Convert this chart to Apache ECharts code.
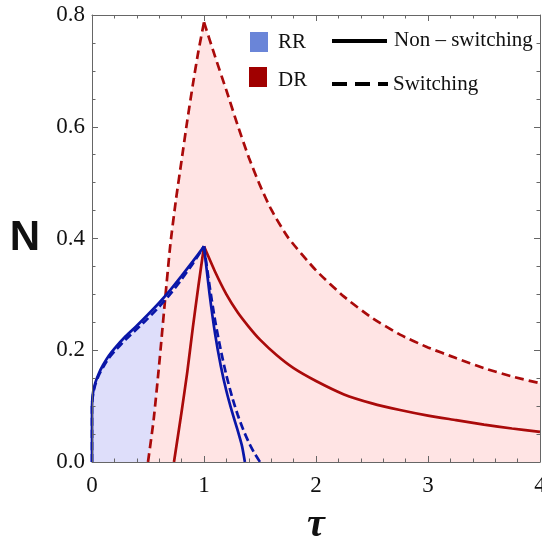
<!DOCTYPE html>
<html>
<head>
<meta charset="utf-8">
<script src="https://cdn.jsdelivr.net/npm/echarts@6/dist/echarts.min.js"></script>
<style>
    html, body { margin: 0; padding: 0; background: #fff; }
    #chart { width: 542px; height: 542px; }
</style>
</head>
<body>
<div id="chart"></div>
<script>
    // axis ticks
    var xTicks = [0, 1, 2, 3, 4];
    var yTicks = [0.0, 0.2, 0.4, 0.6, 0.8];

    // RR (blue) curves, [tau, N]
    var rrNonSwitching = [
        [0, 0], [0, 0.1], [0.01, 0.125], [0.03, 0.142], [0.06, 0.158], [0.1, 0.174],
        [0.15, 0.19], [0.2, 0.203], [0.3, 0.225], [0.4, 0.244], [0.5, 0.264], [0.6, 0.285],
        [0.7, 0.308], [0.8, 0.333], [0.9, 0.359], [1.0, 0.386],
        [1.05, 0.30], [1.1, 0.228], [1.15, 0.172], [1.2, 0.127], [1.25, 0.09],
        [1.3, 0.057], [1.34, 0.028], [1.365, 0]
    ];
    var rrSwitching = [
        [0, 0], [0, 0.1], [0.01, 0.122], [0.03, 0.139], [0.06, 0.155], [0.1, 0.17],
        [0.15, 0.186], [0.2, 0.198], [0.3, 0.219], [0.4, 0.238], [0.5, 0.257], [0.6, 0.278],
        [0.7, 0.301], [0.8, 0.327], [0.9, 0.355], [1.0, 0.386],
        [1.05, 0.315], [1.1, 0.252], [1.15, 0.2], [1.2, 0.155], [1.25, 0.117],
        [1.3, 0.085], [1.35, 0.058], [1.4, 0.035], [1.45, 0.016], [1.5, 0]
    ];

    // DR (red) curves, [tau, N]
    var drNonSwitching = [
        [0.732, 0], [0.8, 0.09], [0.85, 0.16], [0.9, 0.24], [0.95, 0.315], [1.0, 0.386],
        [1.1, 0.34], [1.2, 0.3], [1.3, 0.268], [1.4, 0.242], [1.5, 0.219], [1.65, 0.191],
        [1.8, 0.168], [2.0, 0.145], [2.25, 0.121], [2.5, 0.105], [2.75, 0.093], [3.0, 0.083],
        [3.25, 0.075], [3.5, 0.067], [3.75, 0.06], [4.0, 0.054]
    ];
    var drSwitching = [
        [0.5, 0], [0.55, 0.075], [0.6, 0.175], [0.65, 0.285], [0.7, 0.39], [0.75, 0.47],
        [0.8, 0.54], [0.85, 0.61], [0.9, 0.675], [0.95, 0.735], [1.0, 0.787],
        [1.1, 0.725], [1.2, 0.665], [1.3, 0.603], [1.4, 0.545], [1.5, 0.495], [1.6, 0.452],
        [1.75, 0.402], [2.0, 0.343], [2.25, 0.296], [2.5, 0.258], [2.75, 0.228], [3.0, 0.205],
        [3.25, 0.186], [3.5, 0.168], [3.75, 0.153], [4.0, 0.141]
    ];

    var blue = '#0A16A8';
    var red = '#AA0A0A';
    var serif = '"Liberation Serif", "DejaVu Serif", serif';
    var frameColor = '#666';

    // split a curve at its peak so the cusp stays sharp
    function splitAtPeak(pts) {
        var k = 0;
        for (var i = 1; i < pts.length; i++) {
            if (pts[i][1] > pts[k][1]) k = i;
        }
        return [pts.slice(0, k + 1), pts.slice(k)];
    }

    function curve(pts, color, dashed, z) {
        return splitAtPeak(pts).map(function (part) {
            return {
                type: 'line',
                data: part,
                smooth: 0.2,
                symbol: 'none',
                z: z,
                lineStyle: { color: color, width: 2.7, type: dashed ? dashed : 'solid', cap: 'butt' }
            };
        });
    }

    function area(pts, fill, z) {
        return {
            type: 'line',
            data: pts,
            symbol: 'none',
            z: z,
            silent: true,
            lineStyle: { width: 0, opacity: 0 },
            areaStyle: { color: fill, opacity: 1 }
        };
    }

    // ticks point into the plot (negative length flips them inward)
    function frameParts(split) {
        return {
            axisLine: { show: true, onZero: false, lineStyle: { color: frameColor, width: 1 } },
            axisTick: { show: true, inside: false, length: -6, lineStyle: { color: frameColor, width: 1 } },
            minorTick: { show: true, splitNumber: split, length: -3.5, lineStyle: { color: frameColor, width: 1 } },
            splitLine: { show: false }
        };
    }

    function xAxisDef(pos, labels) {
        return Object.assign({
            type: 'value', position: pos, min: 0, max: 4, interval: 1, z: 10,
            axisLabel: { show: labels, fontFamily: serif, fontSize: 23, color: '#111', margin: 12 },
            name: labels ? 'τ' : '',
            nameLocation: 'middle', nameGap: 44,
            nameTextStyle: { fontFamily: serif, fontSize: 40, fontWeight: 'bold', fontStyle: 'italic', color: '#111' }
        }, frameParts(5));
    }
    function yAxisDef(pos, labels) {
        return Object.assign({
            type: 'value', position: pos, min: 0, max: 0.8, interval: 0.2, z: 10,
            axisLabel: {
                show: labels, fontFamily: serif, fontSize: 23, color: '#111', margin: 7,
                formatter: function (v) { return v.toFixed(1); }
            },
            name: labels ? 'N' : '',
            nameLocation: 'middle', nameRotate: 0, nameGap: 52,
            nameTextStyle: { fontFamily: '"Liberation Sans", Arial, sans-serif', fontSize: 42, fontWeight: 'bold', color: '#111' }
        }, frameParts(4));
    }

    var series = [
        area(rrNonSwitching, '#DEDEFA', 1),
        area(drSwitching, '#FFE4E4', 2)
    ].concat(
        curve(drSwitching, red, [9, 5], 3),
        curve(drNonSwitching, red, null, 4),
        curve(rrSwitching, blue, [8, 4], 5),
        curve(rrNonSwitching, blue, null, 6)
    );

    var legendText = { fontFamily: serif, fontSize: 21, fill: '#111', textVerticalAlign: 'middle' };

    var chart = echarts.init(document.getElementById('chart'));
    chart.setOption({
        animation: false,
        backgroundColor: '#fff',
        grid: { left: 92, right: 2, top: 15, bottom: 80, containLabel: false, outerBoundsMode: 'none' },
        xAxis: [xAxisDef('bottom', true), xAxisDef('top', false)],
        yAxis: [yAxisDef('left', true), yAxisDef('right', false)],
        series: series,
        graphic: [
            { type: 'rect', shape: { x: 250, y: 32, width: 18, height: 20 }, style: { fill: '#6A85D8' }, z: 20 },
            { type: 'text', x: 278, y: 42, style: Object.assign({ text: 'RR' }, legendText), z: 20 },
            { type: 'rect', shape: { x: 249, y: 67, width: 18, height: 20 }, style: { fill: '#A00000' }, z: 20 },
            { type: 'text', x: 278, y: 80, style: Object.assign({ text: 'DR' }, legendText), z: 20 },
            { type: 'line', shape: { x1: 332, y1: 41, x2: 387, y2: 41 }, style: { stroke: '#000', lineWidth: 4 }, z: 20 },
            { type: 'text', x: 394, y: 40, style: Object.assign({ text: 'Non – switching' }, legendText), z: 20 },
            { type: 'line', shape: { x1: 332, y1: 84, x2: 388, y2: 84 }, style: { stroke: '#000', lineWidth: 4, lineDash: [15, 8] }, z: 20 },
            { type: 'text', x: 393, y: 84, style: Object.assign({ text: 'Switching' }, legendText), z: 20 }
        ]
    });
</script>
</body>
</html>
